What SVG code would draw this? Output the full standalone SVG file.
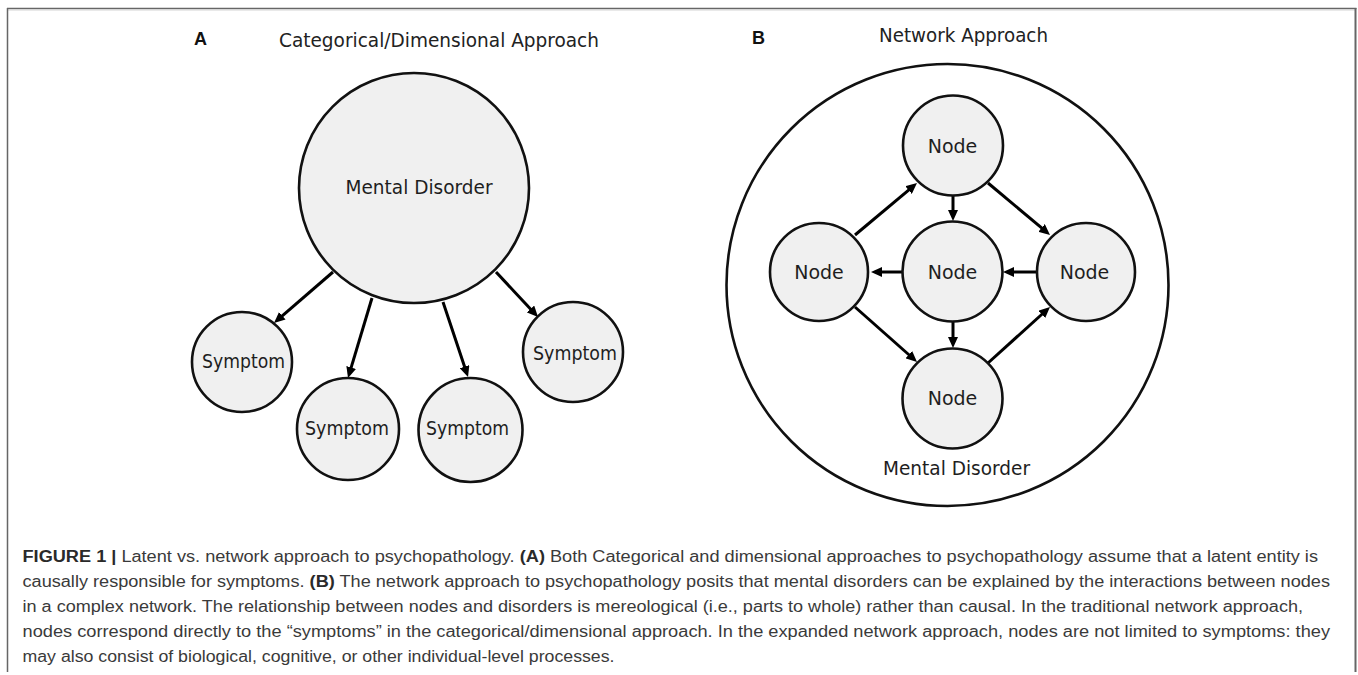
<svg xmlns="http://www.w3.org/2000/svg" width="1358" height="675" viewBox="0 0 1358 675">
<defs>
<style>
.node circle{fill:#f0f0f0;stroke:#111;stroke-width:2.6}
.lbl{font-family:"DejaVu Sans",Verdana,sans-serif;font-size:19px;fill:#1e1e1e;text-anchor:middle}
.ttl{font-family:"DejaVu Sans",Verdana,sans-serif;font-size:19px;fill:#222;text-anchor:middle}
.pl{font-family:"Liberation Sans",Arial,sans-serif;font-size:18px;font-weight:bold;fill:#111}
.edge{stroke:#000;stroke-width:3;fill:none;marker-end:url(#ah)}
.cap{font-family:"Liberation Sans",Arial,sans-serif;font-size:16px;fill:#3a3a3a}
.cap .b{font-weight:bold;fill:#2a2a2a}
.frame{stroke:#666;fill:none}
</style>
<marker id="ah" viewBox="0 0 11 10" refX="2" refY="5" markerWidth="11" markerHeight="10" markerUnits="userSpaceOnUse" orient="auto">
<path d="M0,0 L11,5 L0,10 z" fill="#000"/>
</marker>
</defs>
<rect width="1358" height="675" fill="#fff"/>
<g id="frame">
<line class="frame" x1="7" y1="8.5" x2="1356.5" y2="8.5" stroke-width="1.6" stroke="#555"/>
<line x1="8" y1="10" x2="1355" y2="10" stroke="#d4d4d4" stroke-width="1"/>
<line class="frame" x1="7.5" y1="8" x2="7.5" y2="672" stroke-width="1.5" stroke="#888"/>
<line class="frame" x1="1355.5" y1="8" x2="1355.5" y2="672" stroke-width="2" stroke="#777"/>
</g>
<g id="panelA-title">
<text class="pl" x="194" y="45">A</text>
<text class="ttl" x="439" y="47" textLength="320" lengthAdjust="spacingAndGlyphs">Categorical/Dimensional Approach</text>
</g>
<g id="panelB-title">
<text class="pl" x="752" y="44">B</text>
<text class="ttl" x="963.5" y="42" textLength="169" lengthAdjust="spacingAndGlyphs">Network Approach</text>
</g>
<g id="network-boundary">
<circle cx="947.5" cy="285" r="221" fill="none" stroke="#111" stroke-width="2.6"/>
<text class="lbl" x="956.5" y="475" textLength="147" lengthAdjust="spacingAndGlyphs">Mental Disorder</text>
</g>
<g id="connectors">
<line class="edge" x1="333" y1="272" x2="280.8" y2="317.1"/>
<line class="edge" x1="372" y1="298" x2="350.6" y2="369.4"/>
<line class="edge" x1="443" y1="302" x2="465.2" y2="368.5"/>
<line class="edge" x1="496" y1="272" x2="531.9" y2="310.4"/>
<line class="edge" x1="855" y1="235" x2="910.1" y2="188.8"/>
<line class="edge" x1="953" y1="195" x2="953" y2="212"/>
<line class="edge" x1="988" y1="183" x2="1043.1" y2="229.2"/>
<line class="edge" x1="903" y1="272" x2="880" y2="272"/>
<line class="edge" x1="1037" y1="272" x2="1012" y2="272"/>
<line class="edge" x1="953" y1="321" x2="953" y2="339"/>
<line class="edge" x1="855" y1="307" x2="910.3" y2="356"/>
<line class="edge" x1="988" y1="363" x2="1043.3" y2="313"/>
</g>
<g id="mental-disorder" class="node">
<circle cx="414" cy="188" r="115"/>
<text class="lbl" x="419" y="194" textLength="147" lengthAdjust="spacingAndGlyphs">Mental Disorder</text>
</g>
<g id="symptom-1" class="node">
<circle cx="242" cy="362" r="50"/>
<text class="lbl" x="243.5" y="368" textLength="83" lengthAdjust="spacingAndGlyphs">Symptom</text>
</g>
<g id="symptom-2" class="node">
<circle cx="348" cy="429" r="51"/>
<text class="lbl" x="347" y="435" textLength="84" lengthAdjust="spacingAndGlyphs">Symptom</text>
</g>
<g id="symptom-3" class="node">
<circle cx="470.5" cy="430" r="52"/>
<text class="lbl" x="467.5" y="435" textLength="83" lengthAdjust="spacingAndGlyphs">Symptom</text>
</g>
<g id="symptom-4" class="node">
<circle cx="573" cy="352" r="50"/>
<text class="lbl" x="575" y="360" textLength="84" lengthAdjust="spacingAndGlyphs">Symptom</text>
</g>
<g id="node-top" class="node">
<circle cx="953" cy="145.5" r="50"/>
<text class="lbl" x="952.5" y="153">Node</text>
</g>
<g id="node-left" class="node">
<circle cx="819" cy="272" r="49"/>
<text class="lbl" x="819" y="279">Node</text>
</g>
<g id="node-center" class="node">
<circle cx="952.5" cy="271.5" r="50"/>
<text class="lbl" x="952.5" y="279">Node</text>
</g>
<g id="node-right" class="node">
<circle cx="1086" cy="272" r="49"/>
<text class="lbl" x="1084.5" y="279">Node</text>
</g>
<g id="node-bottom" class="node">
<circle cx="952.5" cy="398.5" r="50"/>
<text class="lbl" x="952.5" y="405">Node</text>
</g>
<g id="caption" class="cap">
<text x="22.5" y="562" textLength="1295.5" lengthAdjust="spacingAndGlyphs"><tspan class="b">FIGURE 1 |</tspan> Latent vs. network approach to psychopathology. <tspan class="b">(A)</tspan> Both Categorical and dimensional approaches to psychopathology assume that a latent entity is</text>
<text x="22.5" y="587" textLength="1307.5" lengthAdjust="spacingAndGlyphs">causally responsible for symptoms. <tspan class="b">(B)</tspan> The network approach to psychopathology posits that mental disorders can be explained by the interactions between nodes</text>
<text x="22.5" y="612" textLength="1280.5" lengthAdjust="spacingAndGlyphs">in a complex network. The relationship between nodes and disorders is mereological (i.e., parts to whole) rather than causal. In the traditional network approach,</text>
<text x="22.5" y="637" textLength="1307.5" lengthAdjust="spacingAndGlyphs">nodes correspond directly to the “symptoms” in the categorical/dimensional approach. In the expanded network approach, nodes are not limited to symptoms: they</text>
<text x="22.5" y="662" textLength="592" lengthAdjust="spacingAndGlyphs">may also consist of biological, cognitive, or other individual-level processes.</text>
</g>
</svg>
